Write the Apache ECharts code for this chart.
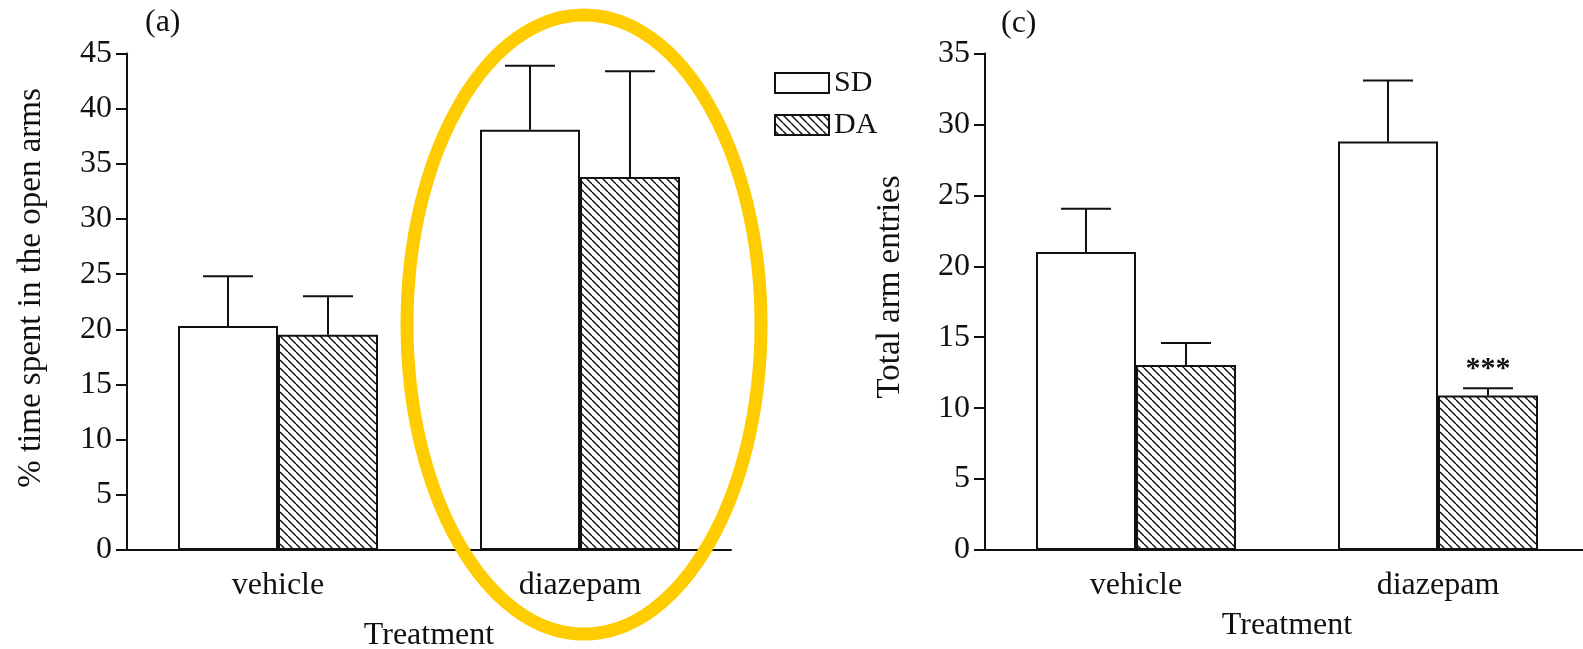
<!DOCTYPE html>
<html>
<head>
<meta charset="utf-8">
<script src="https://cdn.jsdelivr.net/npm/echarts@6/dist/echarts.min.js"></script>
<style>
html,body{margin:0;padding:0;background:#fff;}
#chart{width:1583px;height:649px;}
</style>
</head>
<body>
<div id="chart"></div>
<script>
// ---- data ----
const categories = ['vehicle', 'diazepam'];
const seriesNames = ['SD', 'DA'];
// panel (a): % time spent in the open arms
const sdOpenArms = [20.3, 38.1];
const sdOpenArmsErr = [4.5, 5.8];
const daOpenArms = [19.5, 33.8];
const daOpenArmsErr = [3.5, 9.6];
// panel (c): total arm entries
const sdEntries = [21.0, 28.8];
const sdEntriesErr = [3.05, 4.3];
const daEntries = [13.05, 10.9];
const daEntriesErr = [1.55, 0.5];
const daEntriesSig = ['', '***'];
const yTicksA = { min: 0, max: 45, interval: 5 };
const yTicksC = { min: 0, max: 35, interval: 5 };

// ---- styles ----
const FONT = '"Liberation Serif", "Times New Roman", serif';
const BAR_W = 100;

function hatch() {
  const s = 8;
  const c = document.createElement('canvas');
  c.width = s; c.height = s;
  const g = c.getContext('2d');
  g.fillStyle = '#fff';
  g.fillRect(0, 0, s, s);
  g.strokeStyle = '#111';
  g.lineWidth = 1.4;
  for (const x0 of [-s, 0, s]) {
    g.beginPath();
    g.moveTo(x0, 0);
    g.lineTo(x0 + s, s);
    g.stroke();
  }
  return { image: c, repeat: 'repeat' };
}
const hatchPattern = hatch();

function errSeries(idx, vals, errs, side, sig) {
  return {
    type: 'custom',
    name: seriesNames[side > 0 ? 1 : 0] + ' error',
    xAxisIndex: idx, yAxisIndex: idx,
    z: 5,
    data: vals.map((v, i) => [i, v, errs[i]]),
    renderItem: function (params, api) {
      const cat = api.value(0), v = api.value(1), e = api.value(2);
      const s = sig ? sig[params.dataIndex] : '';
      const base = api.coord([cat, v]);
      const top = api.coord([cat, v + e]);
      const x = base[0] + side * BAR_W / 2;
      const children = [
        { type: 'line', shape: { x1: x, y1: base[1], x2: x, y2: top[1] }, style: { stroke: '#111', lineWidth: 2 } },
        { type: 'line', shape: { x1: x - BAR_W / 4, y1: top[1], x2: x + BAR_W / 4, y2: top[1] }, style: { stroke: '#111', lineWidth: 2 } }
      ];
      if (s) {
        children.push({ type: 'text', style: { text: s, x: x, y: top[1] - 4, align: 'center', verticalAlign: 'bottom', font: 'bold 30px ' + FONT, fill: '#111' } });
      }
      return { type: 'group', children: children };
    }
  };
}

function barSeries(idx, name, vals, color) {
  return {
    type: 'bar', name: name,
    xAxisIndex: idx, yAxisIndex: idx,
    data: vals, barWidth: BAR_W, barGap: '0%',
    itemStyle: { color: color, borderColor: '#111', borderWidth: 2 },
    emphasis: { disabled: true },
    z: 3
  };
}

function xAxis(idx, nameGap) {
  return {
    type: 'category', gridIndex: idx, data: categories,
    name: 'Treatment', nameLocation: 'middle', nameGap: nameGap,
    nameTextStyle: { fontFamily: FONT, fontSize: 32, color: '#111' },
    axisLine: { lineStyle: { color: '#111', width: 2 } },
    axisTick: { show: false },
    axisLabel: { fontFamily: FONT, fontSize: 32, color: '#111', margin: 20 }
  };
}
function yAxis(idx, t) {
  return {
    type: 'value', gridIndex: idx, min: t.min, max: t.max, interval: t.interval,
    splitLine: { show: false },
    axisLine: { show: true, lineStyle: { color: '#111', width: 2 } },
    axisTick: { show: true, length: 11, lineStyle: { color: '#111', width: 2 } },
    axisLabel: { fontFamily: FONT, fontSize: 32, color: '#111', margin: 15 }
  };
}

const chart = echarts.init(document.getElementById('chart'));
chart.setOption({
  backgroundColor: '#fff',
  animation: false,
  grid: [
    { left: 127, top: 53.5, width: 604, height: 496.5, containLabel: false, outerBoundsMode: 'none' },
    { left: 985, top: 53.5, width: 604, height: 496.5, containLabel: false, outerBoundsMode: 'none' }
  ],
  legend: {
    data: seriesNames, orient: 'vertical', left: 769, top: 63,
    itemWidth: 54, itemHeight: 20, itemGap: 12, icon: 'rect',
    textStyle: { fontFamily: FONT, fontSize: 30, lineHeight: 30, color: '#111' }
  },
  xAxis: [xAxis(0, 70), xAxis(1, 60)],
  yAxis: [yAxis(0, yTicksA), yAxis(1, yTicksC)],
  series: [
    barSeries(0, 'SD', sdOpenArms, '#fff'),
    barSeries(0, 'DA', daOpenArms, hatchPattern),
    errSeries(0, sdOpenArms, sdOpenArmsErr, -1),
    errSeries(0, daOpenArms, daOpenArmsErr, 1),
    barSeries(1, 'SD', sdEntries, '#fff'),
    barSeries(1, 'DA', daEntries, hatchPattern),
    errSeries(1, sdEntries, sdEntriesErr, -1),
    errSeries(1, daEntries, daEntriesErr, 1, daEntriesSig)
  ],
  graphic: [
    { type: 'text', left: 145, top: 7, style: { text: '(a)', font: '32px ' + FONT, fill: '#111' } },
    { type: 'text', left: 1001, top: 8, style: { text: '(c)', font: '32px ' + FONT, fill: '#111' } },
    { type: 'text', x: 31, y: 288, rotation: Math.PI / 2, style: { text: '% time spent in the open arms', font: '33px ' + FONT, fill: '#111', align: 'center', verticalAlign: 'middle' } },
    { type: 'text', x: 890, y: 287, rotation: Math.PI / 2, style: { text: 'Total arm entries', font: '33px ' + FONT, fill: '#111', align: 'center', verticalAlign: 'middle' } },
    { type: 'ellipse', z: 100, shape: { cx: 584, cy: 324.5, rx: 177, ry: 309.5 }, style: { fill: 'none', stroke: '#FFCC00', lineWidth: 13 } }
  ]
});
</script>
</body>
</html>
